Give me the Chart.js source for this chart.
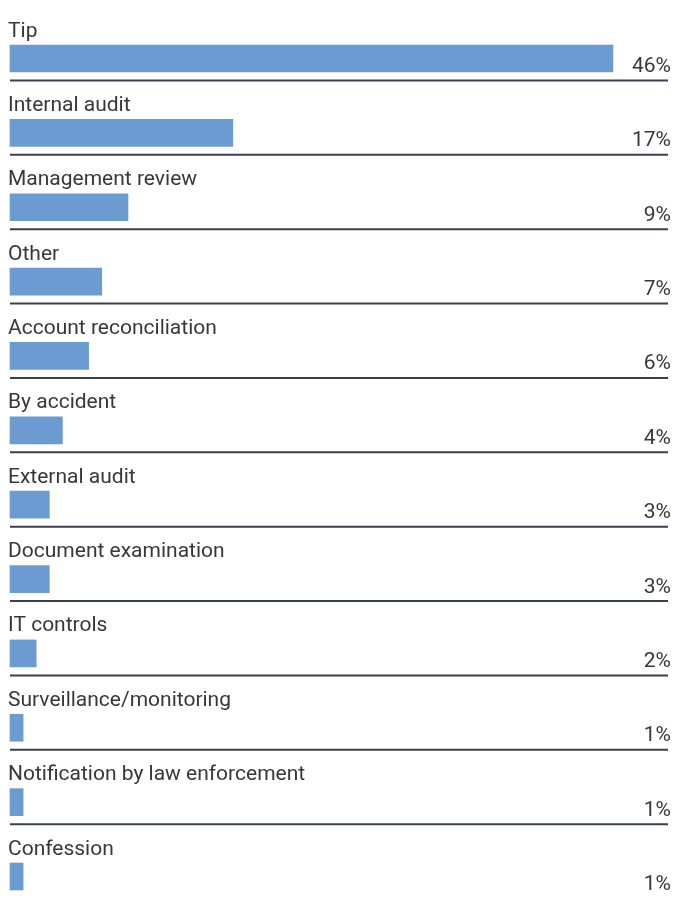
<!DOCTYPE html>
<html>
<head>
<meta charset="utf-8">
<script src="https://cdn.jsdelivr.net/npm/chart.js@4"></script>
<style>
  html, body { margin: 0; padding: 0; background: #fff; }
  #wrap { width: 677px; height: 899px; position: relative; }
</style>
</head>
<body>
<div id="wrap"><canvas id="chart"></canvas></div>
<script>
const categories = [
    "Tip", "Internal audit", "Management review", "Other",
    "Account reconciliation", "By accident", "External audit",
    "Document examination", "IT controls", "Surveillance/monitoring",
    "Notification by law enforcement", "Confession"
];
const percents = [46, 17, 9, 7, 6, 4, 3, 3, 2, 1, 1, 1];

// labels above bars, values at right, separator lines between rows
const rowDecor = {
    id: "rowDecor",
    afterDatasetsDraw(chart) {
        const ctx = chart.ctx;
        const y = chart.scales.y;
        ctx.save();
        ctx.font = "21px Roboto";
        ctx.fillStyle = "#383838";
        categories.forEach((name, i) => {
            const cy = y.getPixelForValue(i);
            ctx.textAlign = "left";
            ctx.textBaseline = "alphabetic";
            ctx.fillText(name, 8, cy - 22);
            ctx.textAlign = "right";
            ctx.fillText(percents[i] + "%", 671, cy + 13.5);
            if (i < categories.length - 1) {
                ctx.strokeStyle = "#3b3e4e";
                ctx.lineWidth = 2;
                ctx.beginPath();
                ctx.moveTo(10, cy + 22);
                ctx.lineTo(668, cy + 22);
                ctx.stroke();
            }
        });
        ctx.restore();
    }
};

new Chart(document.getElementById("chart"), {
    type: "bar",
    data: {
        labels: categories,
        datasets: [{
            data: percents,
            backgroundColor: "#6b9bd1",
            barThickness: 27,
            clip: false
        }]
    },
    options: {
        indexAxis: "y",
        responsive: true,
        maintainAspectRatio: false,
        animation: false,
        layout: { padding: { left: 10, right: 9, top: 58.5, bottom: 22.5 } },
        plugins: { legend: { display: false }, tooltip: { enabled: false } },
        scales: {
            x: { display: false, min: 0, max: 50.2 },
            y: { display: false, offset: false }
        }
    },
    plugins: [rowDecor]
});
</script>
</body>
</html>
